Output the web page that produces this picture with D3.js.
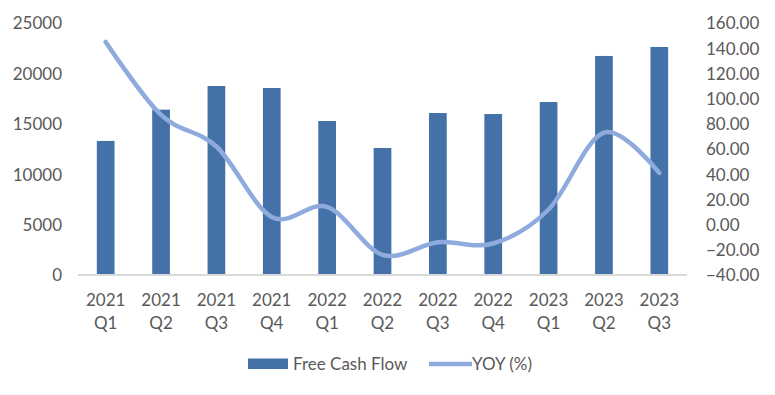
<!DOCTYPE html>
<html><head><meta charset="utf-8">
<script src="https://cdn.jsdelivr.net/npm/d3@7"></script>
<style>body{margin:0;background:#fff}svg{display:block}text{font-family:Lato,"Open Sans",sans-serif;fill:#595959}</style>
</head><body><svg id="c" width="775" height="395"></svg>
<script>
const categories = ["2021 Q1","2021 Q2","2021 Q3","2021 Q4","2022 Q1","2022 Q2","2022 Q3","2022 Q4","2023 Q1","2023 Q2","2023 Q3"];
const fcf = [13300,16400,18750,18550,15280,12600,16070,15970,17160,21730,22620];
const yoy = [145,87,62,6,14,-24,-14,-15,12,73,41];
const leftTicks = [0,5000,10000,15000,20000,25000];
const rightTicks = [-40,-20,0,20,40,60,80,100,120,140,160];
const seriesNames = ["Free Cash Flow","YOY (%)"];

const svg = d3.select("#c");
const L = 78, R = 687, T = 23, B = 275;
const x = d3.scaleBand().domain(categories).range([L, R]).paddingInner(0.68).paddingOuter(0.34);
const yL = d3.scaleLinear().domain([0,25000]).range([B,T]);
const yR = d3.scaleLinear().domain([-40,160]).range([B,T]);
const barColor = "#4472A8", lineColor = "#8FAADC";
const fs = 17;

// bars
svg.append("g").selectAll("rect").data(fcf).join("rect")
  .attr("x",(d,i)=>x(categories[i])).attr("width",x.bandwidth())
  .attr("y",d=>yL(d)).attr("height",d=>yL(0)-yL(d)).attr("fill",barColor);

// axis line
svg.append("line").attr("x1",L).attr("x2",R).attr("y1",B).attr("y2",B).attr("stroke","#D9D9D9").attr("stroke-width",2);

// left axis
const gl = svg.append("g").attr("transform",`translate(${L-16},0)`)
  .call(d3.axisLeft(yL).tickValues(leftTicks).tickSize(0).tickPadding(0).tickFormat(d3.format("d")));
gl.select(".domain").remove();
gl.selectAll("text").attr("font-size",fs).attr("dy","0.35em").style("font-family","Lato").attr("fill","#595959");

// right axis
const gr = svg.append("g").attr("transform",`translate(${R+19},0)`)
  .call(d3.axisRight(yR).tickValues(rightTicks).tickSize(0).tickPadding(0).tickFormat(d3.format(".2f")));
gr.select(".domain").remove();
gr.selectAll("text").attr("font-size",fs).attr("dy","0.35em").style("font-family","Lato").attr("fill","#595959");

// category labels
const cg = svg.append("g");
categories.forEach(c=>{
  const [yr,q] = c.split(" ");
  const cx = x(c)+x.bandwidth()/2;
  const t = cg.append("text").attr("x",cx).attr("text-anchor","middle").attr("font-size",fs);
  t.append("tspan").attr("x",cx).attr("y",305.5).text(yr);
  t.append("tspan").attr("x",cx).attr("y",328.5).text(q);
});

// line
const line = d3.line().x((d,i)=>x(categories[i])+x.bandwidth()/2).y(d=>yR(d)).curve(d3.curveCardinal.tension(0));
svg.append("path").datum(yoy).attr("d",line).attr("fill","none").attr("stroke",lineColor).attr("stroke-width",4.5).attr("stroke-linecap","round");

// legend
const lg = svg.append("g");
lg.append("rect").attr("x",248).attr("y",358.5).attr("width",40).attr("height",10.5).attr("fill",barColor);
lg.append("text").attr("x",293).attr("y",369.5).attr("font-size",fs).text(seriesNames[0]);
lg.append("line").attr("x1",429).attr("x2",472).attr("y1",364).attr("y2",364).attr("stroke",lineColor).attr("stroke-width",4.5);
lg.append("text").attr("x",472).attr("y",369.5).attr("font-size",fs).text(seriesNames[1]);
</script></body></html>
